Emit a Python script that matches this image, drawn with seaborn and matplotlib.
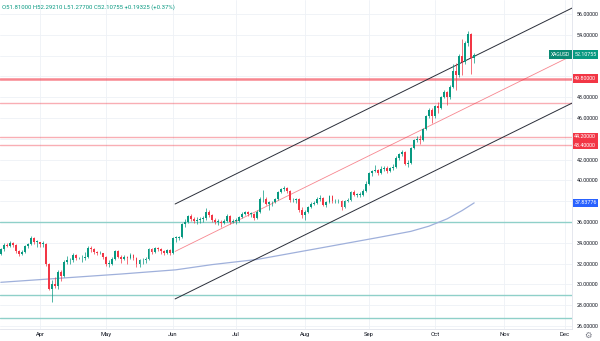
import matplotlib
matplotlib.use("Agg")
import matplotlib.pyplot as plt
import matplotlib.transforms as mtransforms
import numpy as np
import pandas as pd
import seaborn as sns

# ---------------- data ----------------
dates = pd.bdate_range("2025-03-13", "2025-10-20")

opens = [32.9, 33.4, 33.8, 33.7, 34.0, 33.8, 33.2, 32.9, 33.1, 33.7, 33.9, 34.5, 34.1,
         34.1, 33.9, 33.9, 32.0, 29.6, 30.0, 29.8, 31.2, 30.8, 32.2, 32.3, 32.3, 32.8,
         32.5, 32.5, 32.5, 32.6, 33.5, 33.4, 33.1, 33.0, 33.0, 32.6, 32.0, 32.0, 32.4,
         33.2, 32.6, 32.4, 32.6, 32.5, 32.8, 32.5, 32.0, 32.3, 32.3, 32.4, 33.4, 33.1,
         33.5, 33.4, 33.2, 33.0, 33.3, 33.0, 34.5, 34.5, 34.6, 35.8, 36.0, 36.6, 36.3,
         36.1, 36.2, 36.3, 36.4, 37.0, 36.7, 36.2, 36.0, 36.0, 35.9, 36.1, 36.6, 36.0,
         36.1, 36.1, 36.5, 36.8, 37.0, 36.8, 36.8, 36.4, 37.0, 38.2, 38.2, 37.7, 37.9,
         37.9, 38.2, 38.9, 39.2, 39.3, 39.0, 38.1, 38.1, 38.2, 37.2, 36.7, 37.0, 37.4,
         37.7, 37.8, 38.2, 38.3, 37.6, 37.9, 38.5, 38.0, 38.0, 38.0, 37.4, 38.0, 38.1,
         38.9, 38.6, 38.6, 38.6, 39.0, 39.7, 40.7, 40.9, 41.0, 40.7, 41.1, 41.2, 40.9,
         41.2, 41.3, 42.2, 42.5, 42.7, 41.6, 41.7, 43.1, 43.9, 44.0, 43.9, 44.9, 46.2,
         46.8, 46.2, 47.2, 47.0, 48.0, 48.5, 48.0, 49.0, 50.5, 50.1, 52.0, 51.4, 53.2,
         54.1, 51.81]
highs = [33.5, 34.0, 34.0, 34.2, 34.1, 33.9, 33.3, 33.3, 33.8, 34.0, 34.7, 34.6, 34.3,
         34.1, 34.2, 34.0, 32.1, 30.4, 30.7, 31.4, 31.4, 32.3, 32.7, 32.5, 33.0, 32.9,
         32.6, 32.8, 33.1, 33.7, 33.7, 33.5, 33.2, 33.2, 33.0, 32.7, 32.3, 32.6, 33.3,
         33.3, 32.8, 32.8, 32.7, 33.0, 32.9, 32.6, 32.4, 32.5, 32.6, 33.5, 33.5, 33.6,
         33.6, 33.5, 33.3, 33.4, 33.4, 34.6, 34.7, 34.7, 35.9, 36.3, 36.7, 36.8, 36.5,
         36.5, 36.5, 36.6, 37.3, 37.2, 36.8, 36.4, 36.3, 36.2, 36.3, 36.8, 36.7, 36.3,
         36.4, 36.6, 37.0, 37.1, 37.1, 37.0, 36.9, 37.2, 38.4, 39.1, 38.4, 38.0, 38.0,
         38.3, 39.0, 39.3, 39.5, 39.4, 39.1, 38.3, 38.3, 38.3, 37.4, 37.2, 37.5, 37.9,
         38.0, 38.4, 38.6, 38.4, 38.0, 38.6, 38.6, 38.2, 38.2, 38.1, 38.1, 38.3, 39.0,
         39.1, 38.8, 38.9, 39.2, 39.9, 40.8, 41.0, 41.5, 41.1, 41.4, 41.4, 41.4, 41.3,
         41.6, 42.3, 42.6, 42.9, 42.8, 42.0, 43.2, 44.0, 44.3, 44.4, 45.0, 46.3, 47.0,
         47.0, 47.3, 47.5, 48.1, 48.7, 48.6, 49.2, 51.2, 51.3, 52.2, 53.6, 53.4, 54.4,
         54.2, 52.2921]
lows = [32.8, 33.2, 33.6, 33.6, 33.6, 33.0, 32.7, 32.8, 33.0, 33.5, 33.8, 33.9, 33.6,
        33.6, 33.6, 31.8, 29.5, 28.3, 29.7, 29.6, 30.3, 30.7, 32.0, 32.0, 32.2, 32.3,
        32.4, 32.2, 32.3, 32.5, 33.1, 32.9, 32.8, 32.9, 32.4, 31.8, 31.7, 31.9, 32.3,
        32.5, 32.1, 32.3, 32.0, 32.4, 32.3, 31.7, 31.7, 32.0, 32.1, 32.3, 32.9, 33.0,
        33.2, 32.9, 32.8, 32.9, 32.8, 32.9, 34.1, 34.3, 34.5, 35.5, 35.9, 36.1, 35.9,
        35.8, 35.9, 36.0, 36.2, 36.5, 36.0, 35.8, 35.7, 35.5, 35.8, 36.0, 35.8, 35.9,
        35.8, 36.0, 36.4, 36.7, 36.6, 36.5, 36.2, 36.3, 36.9, 37.9, 37.6, 37.2, 37.5,
        37.8, 38.1, 38.8, 39.0, 38.8, 37.9, 37.9, 37.8, 37.0, 36.4, 36.2, 36.9, 37.3,
        37.6, 37.7, 38.0, 37.5, 37.4, 37.8, 37.8, 37.8, 37.8, 37.2, 37.3, 37.9, 38.0,
        38.5, 38.4, 38.4, 38.5, 38.9, 39.6, 40.4, 40.8, 40.5, 40.6, 40.9, 40.7, 40.8,
        41.0, 41.2, 42.0, 42.3, 41.5, 41.3, 41.6, 43.0, 43.7, 43.5, 43.8, 44.8, 46.0,
        45.5, 46.0, 46.5, 46.9, 47.9, 47.3, 47.8, 48.9, 48.7, 49.9, 50.1, 51.2, 52.9,
        50.2, 51.277]
closes = [33.4, 33.8, 33.7, 34.0, 33.8, 33.2, 32.9, 33.1, 33.7, 33.9, 34.5, 34.1, 34.1,
          33.9, 33.9, 32.0, 29.6, 30.0, 29.8, 31.2, 30.8, 32.2, 32.3, 32.3, 32.8, 32.5,
          32.5, 32.5, 32.6, 33.5, 33.4, 33.1, 33.0, 33.0, 32.6, 32.0, 32.0, 32.4, 33.2,
          32.6, 32.4, 32.6, 32.5, 32.8, 32.5, 32.0, 32.3, 32.3, 32.4, 33.4, 33.1, 33.5,
          33.4, 33.2, 33.0, 33.3, 33.0, 34.5, 34.5, 34.6, 35.8, 36.0, 36.6, 36.3, 36.1,
          36.2, 36.3, 36.4, 37.0, 36.7, 36.2, 36.0, 36.0, 35.9, 36.1, 36.6, 36.0, 36.1,
          36.1, 36.5, 36.8, 37.0, 36.8, 36.8, 36.4, 37.0, 38.2, 38.2, 37.7, 37.9, 37.9,
          38.2, 38.9, 39.2, 39.3, 39.0, 38.1, 38.1, 38.2, 37.2, 36.7, 37.0, 37.4, 37.7,
          37.8, 38.2, 38.3, 37.6, 37.9, 38.5, 38.0, 38.0, 38.0, 37.4, 38.0, 38.1, 38.9,
          38.6, 38.6, 38.6, 39.0, 39.7, 40.7, 40.9, 41.0, 40.7, 41.1, 41.2, 40.9, 41.2,
          41.3, 42.2, 42.5, 42.7, 41.6, 41.7, 43.1, 43.9, 44.0, 43.9, 44.9, 46.2, 46.8,
          46.2, 47.2, 47.0, 48.0, 48.5, 48.0, 49.0, 50.5, 50.1, 52.0, 51.4, 53.2, 54.1,
          51.8, 52.10755]

# moving average (vertices): bar index -> value
ma_idx = [0, 20, 40, 58, 70, 85, 106, 125, 136, 142, 148, 153, 157]
ma_val = [30.2, 30.6, 31.0, 31.4, 31.9, 32.4, 33.5, 34.5, 35.1, 35.6, 36.3, 37.1, 37.84]

# drawn channel (start / end bar, values)
chan_idx = [57.8, 189.5]
chan_upper = [37.73, 56.58]
chan_mid = [33.17, 52.01]
chan_lower = [28.60, 47.44]

red_levels = [49.8, 47.45, 44.2, 43.4]
red_widths = [1.8, 1.0, 1.0, 1.0]
teal_levels = [36.0, 29.0, 26.8]

tag_levels = [49.8, 44.2, 43.4]
ma_tag = 37.83776
last_price = 52.10755

ytick_vals = [56, 54, 48, 46, 42, 40, 36, 34, 32, 30, 28, 26]
grid_vals = list(range(26, 57, 2))
month_labels = ["Apr", "May", "Jun", "Jul", "Aug", "Sep", "Oct", "Nov", "Dec"]
month_idx = [13, 35, 57, 78, 101, 122, 144, 167, 187]

header = "O51.81000 H52.29210 L51.27700 C52.10755 +0.19325 (+0.37%)"

# ---------------- styling ----------------
sns.set_theme(style="white")
plt.rcParams["font.family"] = ["Roboto", "DejaVu Sans"]

GREEN = "#089981"
RED = "#F23645"
TEXT = "#131722"

fig = plt.figure(figsize=(6.0, 3.41), dpi=100)
ax = fig.add_axes([0, 12 / 341, 572 / 600, 329 / 341])

df = pd.DataFrame({"date": dates, "open": opens, "high": highs, "low": lows, "close": closes})
df["i"] = np.arange(len(df))
up = df["close"] >= df["open"]
colors = np.where(up, GREEN, RED)

# grid
for g in grid_vals:
    ax.axhline(g, color="#eef1f6", lw=0.6, zorder=0)
for m in month_idx:
    ax.axvline(m, color="#eef1f6", lw=0.6, zorder=0)

# horizontal levels
for lv, w in zip(red_levels, red_widths):
    ax.axhline(lv, color=RED, lw=w, alpha=0.6 if w > 1.2 else 0.4, zorder=1)
for lv in teal_levels:
    ax.axhline(lv, color="#8fd0c9", lw=1.0, zorder=1)

# moving average
sns.lineplot(x=ma_idx, y=ma_val, ax=ax, color="#9fb0db", lw=0.9, zorder=2)

# channel
ax.plot(chan_idx, chan_upper, color="#2a2e39", lw=0.7, zorder=3)
ax.plot(chan_idx, chan_lower, color="#2a2e39", lw=0.7, zorder=3)
ax.plot(chan_idx, chan_mid, color=RED, lw=0.6, alpha=0.6, zorder=3)

# candles
ax.vlines(df["i"], df["low"], df["high"], colors=colors, lw=0.5, zorder=4)
body_lo = np.minimum(df["open"], df["close"])
body_h = np.maximum(np.abs(df["close"] - df["open"]), 0.06)
ax.bar(df["i"], body_h, bottom=body_lo, width=0.62, color=colors, lw=0, zorder=5)

# axes
ax.set_xlim(-0.27, 189.45)
ax.set_ylim(25.71, 57.35)
ax.yaxis.tick_right()
ax.set_yticks(ytick_vals)
ax.set_yticklabels([f"{v:.5f}" for v in ytick_vals])
ax.set_xticks(month_idx)
ax.set_xticklabels(month_labels)
ax.tick_params(axis="y", length=0, pad=3.2, labelsize=3.9, labelcolor=TEXT)
ax.tick_params(axis="x", length=0, pad=2.5, labelsize=4.2, labelcolor=TEXT)
ax.set_xlabel("")
ax.set_ylabel("")
for s in ax.spines.values():
    s.set_visible(False)
ax.spines["right"].set_visible(True)
ax.spines["right"].set_color("#e0e3eb")
ax.spines["right"].set_linewidth(0.6)
ax.spines["bottom"].set_visible(True)
ax.spines["bottom"].set_color("#e0e3eb")
ax.spines["bottom"].set_linewidth(0.6)

trans = mtransforms.blended_transform_factory(ax.transAxes, ax.transData)
tag_kw = dict(fontsize=3.9, color="white", va="center", ha="left", transform=trans,
              clip_on=False, zorder=10)
for lv in tag_levels:
    ax.text(1.004, lv, f"{lv:.5f}",
            bbox=dict(boxstyle="square,pad=0.3", fc=RED, ec="none"), **tag_kw)
ax.text(1.004, ma_tag, f"{ma_tag:.5f}",
        bbox=dict(boxstyle="square,pad=0.3", fc="#2962FF", ec="none"), **tag_kw)
ax.text(1.004, last_price, f"{last_price:.5f}",
        bbox=dict(boxstyle="square,pad=0.3", fc=GREEN, ec="none"), **tag_kw)
ax.text(0.997, last_price, "XAGUSD", fontsize=3.6, color="white", va="center", ha="right",
        transform=trans, clip_on=False, zorder=10,
        bbox=dict(boxstyle="square,pad=0.35", fc="#0b8a74", ec="none"))

# header
ax.text(0.004, 0.987, header, transform=ax.transAxes, fontsize=4.3, color=GREEN,
        ha="left", va="top")

# settings icon
fig.text(588 / 600, 1 - 335 / 341, "\u2699", fontsize=6, color="#787b86",
         ha="center", va="center", family="DejaVu Sans")

fig.savefig("out.png", dpi=100, facecolor="white")
